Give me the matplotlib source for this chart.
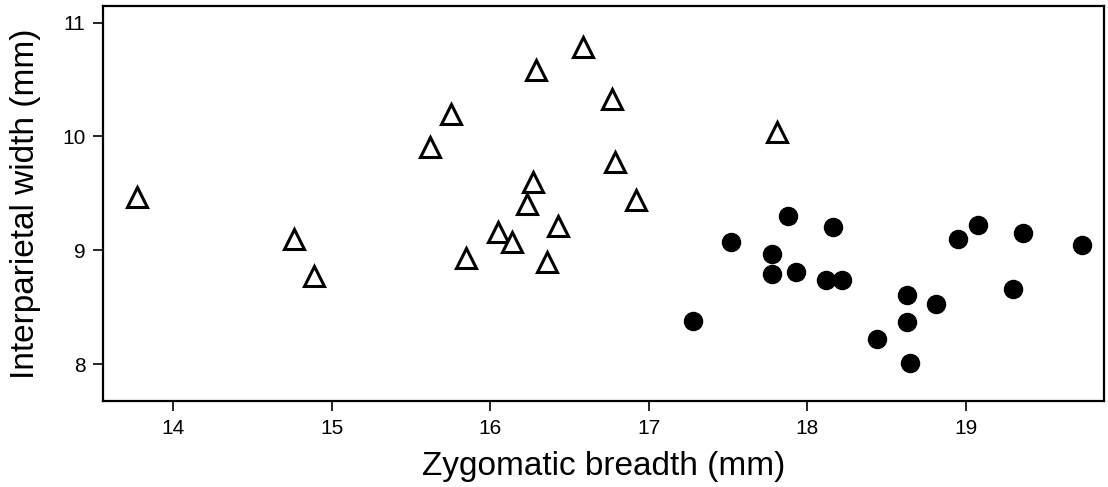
import matplotlib.pyplot as plt

plt.rcParams['font.family'] = ['Liberation Sans', 'DejaVu Sans']

# group 1 (open triangles)
tri_x = [13.77, 14.76, 14.89, 15.62, 15.75, 15.85, 16.05, 16.14, 16.23,
         16.27, 16.29, 16.36, 16.43, 16.585, 16.77, 16.79, 16.92, 17.81]
tri_y = [9.47, 9.10, 8.77, 9.91, 10.20, 8.93, 9.16, 9.07, 9.41,
         9.60, 10.58, 8.90, 9.21, 10.79, 10.33, 9.78, 9.44, 10.04]

# group 2 (filled circles)
dot_x = [17.28, 17.52, 17.78, 17.78, 17.88, 17.93, 18.12, 18.16, 18.22, 18.44,
         18.63, 18.63, 18.645, 18.81, 18.95, 19.08, 19.30, 19.36, 19.73]
dot_y = [8.38, 9.07, 8.97, 8.79, 9.30, 8.81, 8.74, 9.20, 8.74, 8.22,
         8.61, 8.37, 8.01, 8.53, 9.10, 9.22, 8.66, 9.15, 9.05]

fig = plt.figure(figsize=(11.08, 4.87), dpi=100)
ax = fig.add_axes([0.0934, 0.1766, 0.9030, 0.8111])

ax.plot(tri_x, tri_y, linestyle='none', marker='^', markersize=14.5,
        markerfacecolor='white', markeredgecolor='black', markeredgewidth=2.2)
ax.plot(dot_x, dot_y, linestyle='none', marker='o', markersize=13,
        markerfacecolor='black', markeredgecolor='black')

ax.set_xlim(13.56, 19.872)
ax.set_ylim(7.675, 11.147)
ax.set_xticks([14, 15, 16, 17, 18, 19])
ax.set_yticks([8, 9, 10, 11])

for s in ax.spines.values():
    s.set_linewidth(1.6)
ax.tick_params(direction='out', length=7, width=1.2, labelsize=15, pad=6)

ax.set_xlabel('Zygomatic breadth (mm)', fontsize=24, labelpad=9)
ax.set_ylabel('Interparietal width (mm)', fontsize=24, labelpad=15)

fig.savefig('out.png', dpi=100)
